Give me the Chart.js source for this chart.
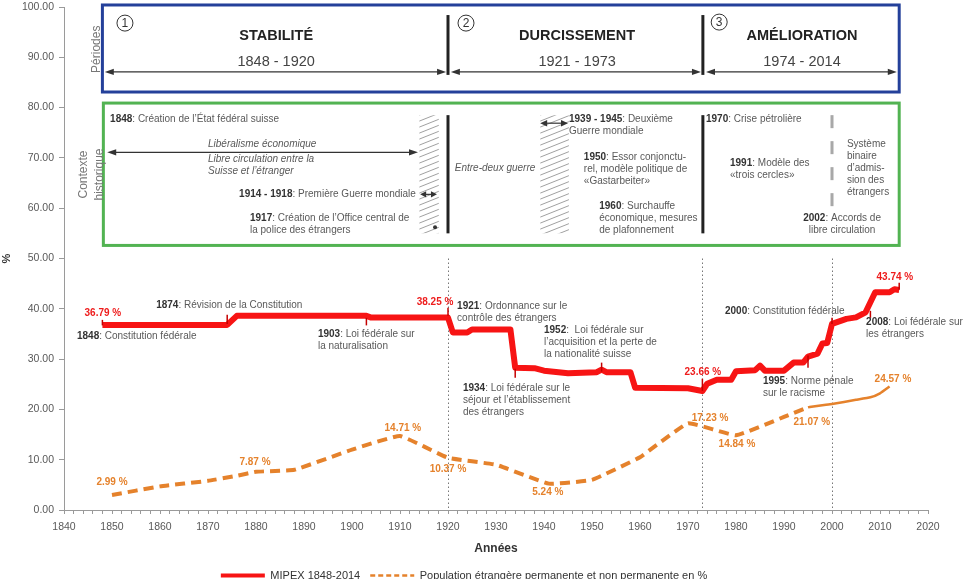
<!doctype html>
<html lang="fr">
<head>
    <title>MIPEX Suisse 1848-2014</title>
    <meta charset="utf-8">
    <script src="https://cdn.jsdelivr.net/npm/chart.js@4.4.1/dist/chart.umd.min.js"></script>
    <style>
        html, body { margin: 0; padding: 0; background: #fff; overflow: hidden; }
        #wrap { width: 977px; height: 579px; overflow: hidden; }
    </style>
</head>
<body>
<div id="wrap"><canvas id="mipexChart" width="977" height="591"></canvas></div>
<script>
    // --- data ---
    const mipexYears = [1848, 1874, 1876, 1903, 1904, 1920, 1921, 1924, 1925, 1933, 1934, 1938, 1940, 1945, 1948, 1951, 1952, 1953,
        1958, 1959, 1970, 1973, 1974, 1976, 1979, 1980, 1984, 1985, 1986, 1990, 1992, 1994, 1995, 1997, 1998, 1999, 2000, 2003,
        2005, 2007, 2009, 2012, 2013, 2014];
    const mipexValues = [36.79, 36.79, 38.6, 38.6, 38.25, 38.25, 35.3, 35.3, 35.9, 35.9, 28.3, 28.2, 27.7, 27.2, 27.3, 27.4, 27.9, 27.4,
        27.4, 24.3, 24.2, 23.66, 25.1, 25.9, 25.9, 27.6, 27.8, 28.7, 27.7, 27.7, 29.3, 29.3, 30.5, 31.1, 33.1, 33.2, 37.0, 38.0,
        38.3, 39.3, 43.3, 43.3, 43.9, 43.74];

    const popYears = [1850, 1860, 1870, 1876, 1880, 1888, 1900, 1910, 1920, 1930, 1941, 1950, 1960, 1970, 1980, 1990, 1995,
        2000, 2005, 2008, 2010, 2012];
    const popValues = [2.99, 4.7, 5.8, 6.8, 7.6, 8.0, 12.0, 14.71, 10.37, 9.0, 5.24, 6.0, 10.5, 17.23, 14.84, 18.5, 20.4,
        21.07, 21.9, 22.4, 23.2, 24.57];

    const decadeLabels = [1840, 1850, 1860, 1870, 1880, 1890, 1900, 1910, 1920, 1930, 1940, 1950, 1960, 1970, 1980, 1990, 2000, 2010, 2020];
    const dottedYears = [1920, 1973, 2000];

    // value labels [year, value, text]
    const mipexLabels = [[1848.1, 39.2, '36.79 %'], [1917.3, 41.4, '38.25 %'], [1973.1, 27.3, '23.66 %'], [2013.1, 46.2, '43.74 %']];
    const popLabels = [[1850, 5.6, '2.99 %'], [1879.8, 9.4, '7.87 %'], [1910.6, 16.3, '14.71 %'], [1920, 8.2, '10.37 %'],
        [1940.8, 3.6, '5.24 %'], [1974.6, 18.3, '17.23 %'], [1980.2, 13.1, '14.84 %'], [1995.8, 17.5, '21.07 %'], [2012.7, 25.9, '24.57 %']];

    // small marks on the MIPEX line [year, from, to]
    const mipexMarks = [[1848, 37.8, 36.7], [1874, 38.8, 37.0], [1903, 38.2, 36.7], [1920, 40.2, 38.6], [1934, 28.1, 26.3],
        [1952, 29.3, 27.5], [1973, 26.1, 23.7], [1995, 30.7, 28.3], [2000, 38.2, 37.0], [2008, 39.6, 38.2], [2014, 45.2, 43.8]];

    // events along the lines
    const eventNotes = [
        {x: 1842.7, y: 34.5, lines: ['1848: Constitution fédérale']},
        {x: 1859.2, y: 40.8, lines: ['1874: Révision de la Constitution']},
        {x: 1892.9, y: 34.9, lines: ['1903: Loi fédérale sur', 'la naturalisation']},
        {x: 1921.9, y: 40.6, lines: ['1921: Ordonnance sur le', 'contrôle des étrangers']},
        {x: 1923.1, y: 24.3, lines: ['1934: Loi fédérale sur le', 'séjour et l’établissement', 'des étrangers']},
        {x: 1940.0, y: 35.7, lines: ['1952:  Loi fédérale sur', 'l’acquisition et la perte de', 'la nationalité suisse']},
        {x: 1977.7, y: 39.6, lines: ['2000: Constitution fédérale']},
        {x: 1985.6, y: 25.5, lines: ['1995: Norme pénale', 'sur le racisme']},
        {x: 2007.1, y: 37.25, lines: ['2008: Loi fédérale sur', 'les étrangers']}
    ];

    // periods box
    const periods = [
        {num: '1', nx: 1852.7, ny: 96.8, title: 'STABILITÉ', span: '1848 - 1920', cx: 1884.2, from: 1848.5, to: 1919.6},
        {num: '2', nx: 1923.75, ny: 96.8, title: 'DURCISSEMENT', span: '1921 - 1973', cx: 1946.9, from: 1920.6, to: 1972.7},
        {num: '3', nx: 1976.5, ny: 97.0, title: 'AMÉLIORATION', span: '1974 - 2014', cx: 1993.75, from: 1973.75, to: 2013.5}
    ];

    // historical context box
    const contextNotes = [
        {x: 1849.6, y: 77.7, align: 'left', lines: ['1848: Création de l’État fédéral suisse']},
        {x: 1870, y: 72.7, align: 'left', italic: true, lines: ['Libéralisme économique']},
        {x: 1870, y: 69.7, align: 'left', italic: true, lines: ['Libre circulation entre la', 'Suisse et l’étranger']},
        {x: 1913.3, y: 62.75, align: 'right', lines: ['1914 - 1918: Première Guerre mondiale']},
        {x: 1878.75, y: 58.0, align: 'left', lines: ['1917: Création de l’Office central de', 'la police des étrangers']},
        {x: 1929.8, y: 67.9, align: 'center', italic: true, lines: ['Entre-deux guerre']},
        {x: 1945.2, y: 77.7, align: 'left', lines: ['1939 - 1945: Deuxième', 'Guerre mondiale']},
        {x: 1948.3, y: 70.1, align: 'left', lines: ['1950: Essor conjonctu-', 'rel, modèle politique de', '«Gastarbeiter»']},
        {x: 1951.5, y: 60.4, align: 'left', lines: ['1960: Surchauffe', 'économique, mesures', 'de plafonnement']},
        {x: 1973.75, y: 77.7, align: 'left', lines: ['1970: Crise pétrolière']},
        {x: 1978.75, y: 68.9, align: 'left', lines: ['1991: Modèle des', '«trois cercles»']},
        {x: 2003.1, y: 72.7, align: 'left', lines: ['Système', 'binaire', 'd’admis-', 'sion des', 'étrangers']},
        {x: 2002.1, y: 58.0, align: 'center', lines: ['2002: Accords de', 'libre circulation']}
    ];

    const FONT = '"Liberation Sans", Arial, Helvetica, sans-serif';
    const RED = '#f71414';
    const ORANGE = '#e5822c';

    function richText(ctx, X, Y, line, align, italic, size) {
        const m = line.match(/^(\d{4}(?: - \d{4})?)(:.*)$/);
        const normal = (italic ? 'italic ' : '') + size + 'px ' + FONT;
        const bold = 'bold ' + size + 'px ' + FONT;
        const parts = m ? [[m[1], bold, '#333'], [m[2], normal, '#595959']] : [[line, normal, '#595959']];
        let total = 0;
        parts.forEach(p => { ctx.font = p[1]; p.push(ctx.measureText(p[0]).width); total += p[3]; });
        let sx = align === 'left' ? X : (align === 'right' ? X - total : X - total / 2);
        ctx.textAlign = 'left';
        ctx.textBaseline = 'middle';
        parts.forEach(p => { ctx.font = p[1]; ctx.fillStyle = p[2]; ctx.fillText(p[0], sx, Y); sx += p[3]; });
    }

    function arrow(ctx, x1, x2, yy, head) {
        ctx.beginPath();
        ctx.moveTo(x1 + head - 1, yy);
        ctx.lineTo(x2 - head + 1, yy);
        ctx.stroke();
        ctx.beginPath();
        ctx.moveTo(x1, yy); ctx.lineTo(x1 + head, yy - 3.2); ctx.lineTo(x1 + head, yy + 3.2); ctx.closePath();
        ctx.moveTo(x2, yy); ctx.lineTo(x2 - head, yy - 3.2); ctx.lineTo(x2 - head, yy + 3.2); ctx.closePath();
        ctx.fill();
    }

    function hatch(ctx, l, t, r, b) {
        ctx.save();
        ctx.beginPath();
        ctx.rect(l, t, r - l, b - t);
        ctx.clip();
        ctx.strokeStyle = '#a0a0a0';
        ctx.lineWidth = 1;
        const rise = (r - l) * 0.4;
        for (let yy = t - rise; yy < b + rise; yy += 6) {
            ctx.beginPath();
            ctx.moveTo(l, yy + rise);
            ctx.lineTo(r, yy);
            ctx.stroke();
        }
        ctx.restore();
    }

    function vText(ctx, X, Y, txt, size, color) {
        ctx.save();
        ctx.translate(X, Y);
        ctx.rotate(-Math.PI / 2);
        ctx.font = size + 'px ' + FONT;
        ctx.fillStyle = color;
        ctx.textAlign = 'center';
        ctx.textBaseline = 'middle';
        ctx.fillText(txt, 0, 0);
        ctx.restore();
    }

    const frisePlugin = {
        id: 'frise',
        beforeDatasetsDraw(chart) {
            const {ctx, scales: {x, y}} = chart;
            ctx.save();
            ctx.strokeStyle = '#777';
            ctx.lineWidth = 1;
            ctx.setLineDash([1.5, 2.5]);
            dottedYears.forEach(yr => {
                const X = Math.round(x.getPixelForValue(yr)) + 0.5;
                ctx.beginPath();
                ctx.moveTo(X, y.getPixelForValue(50));
                ctx.lineTo(X, y.getPixelForValue(0));
                ctx.stroke();
            });
            ctx.restore();
        },
        afterDatasetsDraw(chart) {
            const {ctx, scales: {x, y}} = chart;
            const X = v => x.getPixelForValue(v);
            const Y = v => y.getPixelForValue(v);
            ctx.save();

            // marks on the MIPEX line
            ctx.strokeStyle = '#c40000';
            ctx.lineWidth = 1.5;
            mipexMarks.forEach(m => {
                ctx.beginPath();
                ctx.moveTo(X(m[0]), Y(m[1]));
                ctx.lineTo(X(m[0]), Y(m[2]));
                ctx.stroke();
            });

            // value labels
            ctx.textAlign = 'center';
            ctx.textBaseline = 'middle';
            ctx.font = 'bold 10px ' + FONT;
            ctx.fillStyle = '#ee1c1c';
            mipexLabels.forEach(l => ctx.fillText(l[2], X(l[0]), Y(l[1])));
            ctx.fillStyle = ORANGE;
            popLabels.forEach(l => ctx.fillText(l[2], X(l[0]), Y(l[1])));

            // event notes
            eventNotes.forEach(n => {
                n.lines.forEach((line, i) => richText(ctx, X(n.x), Y(n.y) + i * 12, line, 'left', false, 10));
            });

            // periods box
            ctx.strokeStyle = '#24409a';
            ctx.lineWidth = 3;
            ctx.strokeRect(X(1848), Y(100.4), X(2014) - X(1848), Y(83.1) - Y(100.4));
            vText(ctx, X(1846.9), Y(91.6), 'Périodes', 12, '#777');
            periods.forEach(p => {
                ctx.strokeStyle = '#333';
                ctx.lineWidth = 1;
                ctx.beginPath();
                ctx.arc(X(p.nx), Y(p.ny), 8, 0, Math.PI * 2);
                ctx.stroke();
                ctx.fillStyle = '#333';
                ctx.font = '12px ' + FONT;
                ctx.textAlign = 'center';
                ctx.textBaseline = 'middle';
                ctx.fillText(p.num, X(p.nx), Y(p.ny) + 0.5);
                ctx.font = 'bold 14.5px ' + FONT;
                ctx.fillStyle = '#222';
                ctx.fillText(p.title, X(p.cx), Y(94.2));
                ctx.font = '14.5px ' + FONT;
                ctx.fillStyle = '#444';
                ctx.fillText(p.span, X(p.cx), Y(89.0));
                ctx.strokeStyle = '#333';
                ctx.fillStyle = '#333';
                ctx.lineWidth = 1.2;
                arrow(ctx, X(p.from), X(p.to), Y(87.1), 9);
            });
            ctx.strokeStyle = '#222';
            ctx.lineWidth = 3;
            [1920, 1973.1].forEach(yr => {
                ctx.beginPath();
                ctx.moveTo(X(yr), Y(98.4));
                ctx.lineTo(X(yr), Y(86.5));
                ctx.stroke();
            });

            // historical context box
            ctx.strokeStyle = '#52b352';
            ctx.lineWidth = 3;
            ctx.strokeRect(X(1848.2), Y(80.9), X(2014) - X(1848.2), Y(52.6) - Y(80.9));
            vText(ctx, X(1844.2), Y(66.7), 'Contexte', 12, '#777');
            vText(ctx, X(1847.5), Y(66.7), 'historique', 12, '#777');

            hatch(ctx, X(1914), Y(78.5), X(1918.1), Y(55.0));
            hatch(ctx, X(1939.2), Y(78.5), X(1945.2), Y(55.0));

            ctx.strokeStyle = '#222';
            ctx.lineWidth = 3;
            [1920, 1973.1].forEach(yr => {
                ctx.beginPath();
                ctx.moveTo(X(yr), Y(78.5));
                ctx.lineTo(X(yr), Y(55.0));
                ctx.stroke();
            });
            ctx.strokeStyle = '#a8a8a8';
            ctx.setLineDash([13, 13]);
            ctx.beginPath();
            ctx.moveTo(X(2000), Y(78.5));
            ctx.lineTo(X(2000), Y(59.6));
            ctx.stroke();
            ctx.setLineDash([]);

            ctx.strokeStyle = '#333';
            ctx.fillStyle = '#333';
            ctx.lineWidth = 1.2;
            arrow(ctx, X(1849), X(1913.75), Y(71.1), 9);
            arrow(ctx, X(1914.2), X(1917.7), Y(62.75), 6);
            arrow(ctx, X(1939.2), X(1945.0), Y(76.9), 7);
            ctx.beginPath();
            ctx.arc(X(1917.3), Y(56.2), 2, 0, Math.PI * 2);
            ctx.fill();

            contextNotes.forEach(n => {
                n.lines.forEach((line, i) => richText(ctx, X(n.x), Y(n.y) + i * 12, line, n.align, n.italic, 10));
            });

            ctx.restore();
        }
    };

    const ctx = document.getElementById('mipexChart').getContext('2d');
    const chart = new Chart(ctx, {
        type: 'line',
        data: {
            datasets: [{
                label: 'MIPEX 1848-2014',
                data: mipexYears.map((yr, i) => ({x: yr, y: mipexValues[i]})),
                borderColor: RED,
                backgroundColor: RED,
                borderWidth: 6,
                borderJoinStyle: 'round',
                pointRadius: 0,
                tension: 0
            }, {
                label: 'Population étrangère permanente et non permanente en %',
                data: popYears.map((yr, i) => ({x: yr, y: popValues[i]})),
                borderColor: ORANGE,
                backgroundColor: ORANGE,
                borderWidth: 4,
                borderDash: [10, 6],
                pointRadius: 0,
                tension: 0.1,
                segment: {
                    borderDash: c => c.p0.parsed.x >= 1995 ? [] : undefined,
                    borderWidth: c => c.p0.parsed.x >= 1995 ? 2.5 : undefined
                }
            }]
        },
        options: {
            responsive: false,
            animation: false,
            layout: {padding: {left: 0, right: 49, top: 7, bottom: 0}},
            plugins: {
                tooltip: {enabled: false},
                legend: {
                    position: 'bottom',
                    labels: {
                        usePointStyle: true,
                        pointStyle: 'line',
                        pointStyleWidth: 44,
                        padding: 10,
                        color: '#333',
                        font: {family: FONT, size: 11},
                        generateLabels: c => {
                            const items = Chart.defaults.plugins.legend.labels.generateLabels(c);
                            items[0].lineWidth = 4;
                            items[1].lineWidth = 2.5;
                            items[1].lineDash = [5, 3];
                            return items;
                        }
                    }
                }
            },
            scales: {
                x: {
                    type: 'linear',
                    min: 1840,
                    max: 2020,
                    ticks: {
                        stepSize: 2,
                        autoSkip: false,
                        maxRotation: 0,
                        padding: 7,
                        color: '#595959',
                        font: {family: FONT, size: 10.5},
                        callback: v => decadeLabels.includes(v) ? String(v) : ''
                    },
                    grid: {drawOnChartArea: false, tickLength: 4, color: '#9a9a9a'},
                    border: {color: '#9a9a9a'},
                    title: {
                        display: true,
                        text: 'Années',
                        color: '#333',
                        font: {family: FONT, size: 12, weight: 'bold'},
                        padding: {top: 0, bottom: 4}
                    },
                    afterFit: s => { s.height = 50; }
                },
                y: {
                    min: 0,
                    max: 100,
                    ticks: {
                        stepSize: 10,
                        padding: 5,
                        color: '#595959',
                        font: {family: FONT, size: 10.5},
                        callback: v => v.toFixed(2)
                    },
                    grid: {drawOnChartArea: false, tickLength: 5, color: '#9a9a9a'},
                    border: {color: '#9a9a9a'},
                    title: {
                        display: true,
                        text: '%',
                        color: '#333',
                        font: {family: FONT, size: 11, weight: 'bold'},
                        padding: 0
                    },
                    afterFit: s => { s.width = 64; s.paddingTop = 0; }
                }
            }
        },
        plugins: [frisePlugin]
    });
</script>
</body>
</html>
